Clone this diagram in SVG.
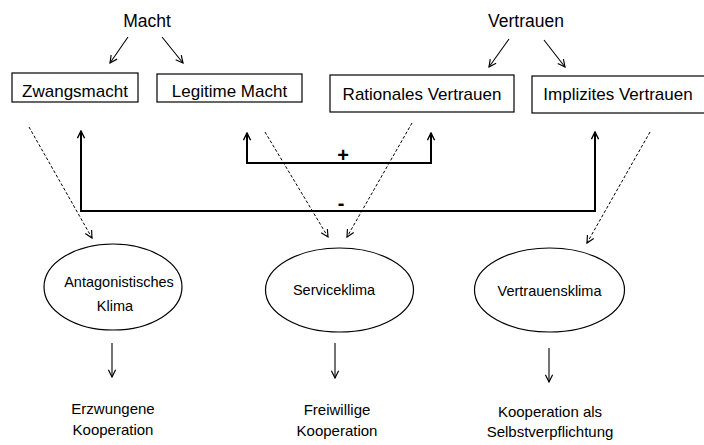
<svg xmlns="http://www.w3.org/2000/svg" width="704" height="445" viewBox="0 0 704 445">
<style>
  text { font-family: "Liberation Sans", Arial, sans-serif; fill: #000; text-anchor: middle; }
  .top { font-size: 17.5px; }
  .box { font-size: 17px; }
  .ell { font-size: 14.5px; }
  .out { font-size: 15px; }
  .sign { font-size: 20px; font-weight: bold; }
  rect, ellipse { fill: #fff; stroke: #000; stroke-width: 1.2; }
  .thin { fill: none; stroke: #000; stroke-width: 1.1; }
  .dash { fill: none; stroke: #000; stroke-width: 1; stroke-dasharray: 3 2; }
  .fb { fill: none; stroke: #000; stroke-width: 2; }
</style>
<defs>
  <marker id="open" viewBox="0 0 10 10" refX="9" refY="5" markerWidth="9" markerHeight="9" markerUnits="userSpaceOnUse" orient="auto">
    <path d="M1,1 L9,5 L1,9" fill="none" stroke="#000" stroke-width="1.3"/>
  </marker>
  <marker id="fbhead" viewBox="0 0 10 10" refX="9" refY="5" markerWidth="9" markerHeight="9" markerUnits="userSpaceOnUse" orient="auto-start-reverse">
    <path d="M1,1 L9,5 L1,9" fill="none" stroke="#000" stroke-width="1.6"/>
  </marker>
</defs>
<rect x="0" y="0" width="704" height="445" style="fill:#fff;stroke:none"/>

<g id="connectors">
  <line class="thin" x1="128" y1="37" x2="110" y2="63" marker-end="url(#open)"/>
  <line class="thin" x1="162" y1="37" x2="183" y2="63" marker-end="url(#open)"/>
  <line class="thin" x1="509" y1="39" x2="489" y2="67" marker-end="url(#open)"/>
  <line class="thin" x1="544" y1="40" x2="565" y2="67" marker-end="url(#open)"/>
  <path class="fb" d="M81,131 V211 H595 V132" marker-start="url(#fbhead)" marker-end="url(#fbhead)"/>
  <path class="fb" d="M247,133 V163 H431 V133" marker-start="url(#fbhead)" marker-end="url(#fbhead)"/>
  <line class="dash" x1="29" y1="127" x2="92" y2="238" marker-end="url(#open)"/>
  <line class="dash" x1="265" y1="132" x2="328" y2="237" marker-end="url(#open)"/>
  <line class="dash" x1="412" y1="123" x2="347" y2="237" marker-end="url(#open)"/>
  <line class="dash" x1="650" y1="132" x2="587" y2="243" marker-end="url(#open)"/>
  <line class="thin" x1="112" y1="343" x2="112" y2="377" marker-end="url(#open)"/>
  <line class="thin" x1="335" y1="343" x2="335" y2="378" marker-end="url(#open)"/>
  <line class="thin" x1="549" y1="348" x2="549" y2="382" marker-end="url(#open)"/>
  <text class="sign" x="343" y="162">+</text>
  <text class="sign" x="341" y="210">-</text>
</g>

<g id="macht"><text class="top" x="147" y="27">Macht</text></g>
<g id="vertrauen"><text class="top" x="526" y="27">Vertrauen</text></g>

<g id="zwangsmacht">
  <rect x="12" y="73" width="126" height="29"/>
  <text class="box" x="75" y="97">Zwangsmacht</text>
</g>
<g id="legitime-macht">
  <rect x="157" y="74" width="145" height="28"/>
  <text class="box" x="229.5" y="97">Legitime Macht</text>
</g>
<g id="rationales-vertrauen">
  <rect x="330" y="75" width="184" height="37"/>
  <text class="box" x="422" y="100">Rationales Vertrauen</text>
</g>
<g id="implizites-vertrauen">
  <rect x="532" y="76" width="180" height="37"/>
  <text class="box" x="618" y="100">Implizites Vertrauen</text>
</g>

<g id="antagonistisches-klima">
  <ellipse cx="113" cy="287" rx="69" ry="43"/>
  <text class="ell" x="119" y="287">Antagonistisches</text>
  <text class="ell" x="115" y="311">Klima</text>
</g>
<g id="serviceklima">
  <ellipse cx="339.5" cy="290" rx="74" ry="42"/>
  <text class="ell" x="334" y="295">Serviceklima</text>
</g>
<g id="vertrauensklima">
  <ellipse cx="549.5" cy="290" rx="75" ry="42"/>
  <text class="ell" x="549.5" y="296">Vertrauensklima</text>
</g>

<g id="erzwungene-kooperation">
  <text class="out" x="113" y="414">Erzwungene</text>
  <text class="out" x="113" y="435">Kooperation</text>
</g>
<g id="freiwillige-kooperation">
  <text class="out" x="337" y="415">Freiwillige</text>
  <text class="out" x="337" y="436">Kooperation</text>
</g>
<g id="kooperation-selbstverpflichtung">
  <text class="out" x="550" y="417">Kooperation als</text>
  <text class="out" x="550" y="437">Selbstverpflichtung</text>
</g>
</svg>
